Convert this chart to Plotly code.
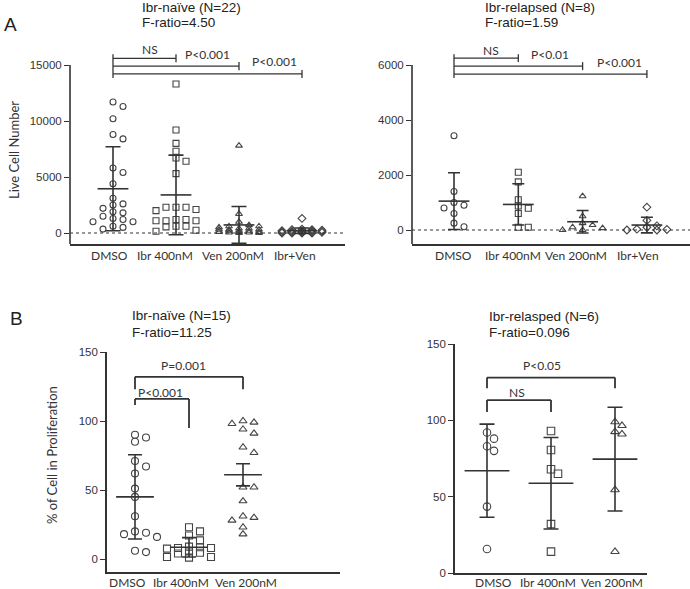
import plotly.graph_objects as go

W, H = 690, 589

# ---- data -------------------------------------------------------------
a_groups = ["DMSO", "Ibr 400nM", "Ven 200nM", "Ibr+Ven"]
b_groups = ["DMSO", "Ibr 400nM", "Ven 200nM"]

# A, Ibr-naive (N=22): live cell number
naive_dmso = [11700, 11300, 10200, 8800, 8400, 5800, 5400, 4400, 3100, 2600, 2500,
              2200, 1900, 1800, 1500, 1300, 1200, 1000, 1000, 600, 500, 350]
naive_ibr = [13300, 9200, 8000, 7300, 6700, 6400, 5300, 2300, 2300, 2300, 2100,
             2000, 1200, 1200, 1100, 1100, 1100, 600, 600, 550, 250, 150]
naive_ven = [7800, 1700, 1000, 700, 600, 600, 500, 400, 400, 300, 300, 300,
             200, 200, 200, 100, 100, 100, 50, 50, 0, 0]
naive_combo = [1300, 350, 300, 300, 250, 200, 200, 200, 150, 150, 150, 100,
               100, 100, 100, 50, 50, 50, 0, 0, 0, 0]
naive_mean = [3950, 3400, 720, 200]
naive_sd = [3750, 3550, 1650, 250]

# A, Ibr-relapsed (N=8): live cell number
rel_dmso = [3430, 1400, 1000, 900, 800, 600, 250, 120]
rel_ibr = [2100, 1750, 1100, 870, 790, 600, 100, 100]
rel_ven = [1230, 500, 250, 180, 100, 70, 0, 0]
rel_combo = [830, 350, 150, 100, 30, 20, 0, 0]
rel_mean = [1050, 930, 300, 180]
rel_sd = [1030, 750, 410, 285]

# B, Ibr-naive (N=15): % of cells in proliferation
prol_naive_dmso = [90, 88, 85, 71, 67, 62, 51, 45, 31, 20, 19, 18, 16, 6, 5]
prol_naive_ibr = [23, 20, 17, 13.5, 9, 8.5, 8, 8, 7.5, 5.5, 4.5, 4, 1.5, 1.5, 1]
prol_naive_ven = [100, 99, 98, 94, 91, 81, 77, 52, 52, 42, 31, 30, 28, 23, 18]
prol_naive_mean = [45, 8.5, 61]
prol_naive_err = [30.5, 7, 8]

# B, Ibr-relapsed (N=6)
prol_rel_dmso = [92, 88, 83, 80, 43.5, 15.7]
prol_rel_ibr = [93, 80.6, 68, 65, 32, 14]
prol_rel_ven = [99, 96.5, 92.5, 91, 54.5, 14]
prol_rel_mean = [67, 58.8, 74.6]
prol_rel_sd = [30.5, 30, 34]

# ---- styles -----------------------------------------------------------
INK = "#333333"
PT = "#444444"
SANS = "Liberation Sans, Arial, sans-serif"
HUM = "Lato, Open Sans, sans-serif"
SYMS = ["circle-open", "square-open", "triangle-up-open", "diamond-open"]


def xgeom(c0, dx, xl, xr):
    return [(xl - c0) / dx, (xr - c0) / dx], [xl / W, xr / W]


def ygeom(v0, p0, v1, p1, pbot, ptop):
    s = (p0 - p1) / (v1 - v0)
    return [v0 - (pbot - p0) / s, v1 + (p1 - ptop) / s], [(H - pbot) / H, (H - ptop) / H], s


def swarm(vals, ypx, step, dist, maxk=2):
    # grid swarm like GraphPad: columns `step` px apart, at most +-maxk columns
    cands = [0]
    for k in range(1, maxk + 1):
        cands += [k, -k]
    placed, offs = [], []
    for v in vals:
        y = v * ypx
        best, best_d = 0, -1
        for c in cands:
            x = c * step
            d = min([((x - px) ** 2 + (y - py) ** 2) ** 0.5 for px, py in placed] or [1e9])
            if d >= dist:
                best = x
                break
            if d > best_d:
                best, best_d = x, d
        placed.append((best, y))
        offs.append(best)
    return offs


panels = [
    dict(groups=a_groups, series=[naive_dmso, naive_ibr, naive_ven, naive_combo],
         mean=naive_mean, err=naive_sd,
         x=xgeom(113, 63, 70, 345), y=ygeom(0, 233, 15000, 65, 244, 44),
         dx=63, tickvals=[0, 5000, 10000, 15000], msize=6, step=10, dist=6, cap=7.5,
         mean_w=22, axis_top=15000, zero_dash=True, own_yline=True,
         label_px=[109, 165, 233, 295], label_py=255),
    dict(groups=a_groups, series=[rel_dmso, rel_ibr, rel_ven, rel_combo],
         mean=rel_mean, err=rel_sd,
         x=xgeom(454, 64.3, 412, 690), y=ygeom(0, 230, 6000, 65, 244, 44),
         dx=64.3, tickvals=[0, 2000, 4000, 6000], msize=6, step=10, dist=6, cap=6,
         mean_w=22, axis_top=6000, zero_dash=True, own_yline=True,
         label_px=[453, 513, 576, 638], label_py=255),
    dict(groups=b_groups, series=[prol_naive_dmso, prol_naive_ibr, prol_naive_ven],
         mean=prol_naive_mean, err=prol_naive_err,
         x=xgeom(135, 54, 107, 340), y=ygeom(0, 559, 150, 352, 572, 352),
         dx=54, tickvals=[0, 50, 100, 150], msize=7, step=11, dist=6.5, cap=7,
         mean_w=27, axis_top=150, zero_dash=False, own_yline=False,
         label_px=[127, 181, 246], label_py=582),
    dict(groups=b_groups, series=[prol_rel_dmso, prol_rel_ibr, prol_rel_ven],
         mean=prol_rel_mean, err=prol_rel_sd,
         x=xgeom(487, 64, 455, 647), y=ygeom(0, 573, 150, 344, 573, 344),
         dx=64, tickvals=[0, 50, 100, 150], msize=7.5, step=7, dist=7, cap=7.5,
         mean_w=32, axis_top=150, zero_dash=False, own_yline=False,
         label_px=[493, 548, 612], label_py=582),
]

# brackets: (x0, x1, y_top, left_leg_to, right_leg_to / tick, label, label_x, label_y)
brackets = [
    [(0, 1, 15600, None, 360, "NS", 0.59, 16340),
     (0, 2, 14900, None, 360, "P<0.001", 1.5, 15980),
     (0, 3, 14200, None, 360, "P<0.001", 2.56, 15270)],
    [(0, 1, 6250, None, 145, "NS", 0.58, 6545),
     (0, 2, 5960, None, 145, "P<0.01", 1.5, 6400),
     (0, 3, 5670, None, 145, "P<0.001", 2.58, 6109)],
    [(0, 1, 116, 111.6, 95, "P<0.001", 0.48, 121),
     (0, 2, 132, 123, 123, "P=0.001", 0.89, 140)],
    [(0, 1, 113.3, 105.4, 105.4, "NS", 0.47, 118.5),
     (0, 2, 128, 121, 121, "P<0.05", 0.86, 135.6)],
]

fig = go.Figure()
shapes, annos = [], []

for i, p in enumerate(panels):
    n = "" if i == 0 else str(i + 1)
    xa, ya = "x" + n, "y" + n
    yrange, ydom, ypx = p["y"]
    xrange, xdom = p["x"]

    for g, vals in enumerate(p["series"]):
        offs = swarm(vals, ypx, p["step"], p["dist"])
        fig.add_trace(go.Scatter(
            x=[g + o / p["dx"] for o in offs], y=vals, mode="markers",
            xaxis=xa, yaxis=ya, cliponaxis=False,
            marker=dict(symbol=SYMS[g], size=p["msize"], color=PT,
                        line=dict(color=PT, width=1.1))))

    fig.add_trace(go.Scatter(
        x=list(range(len(p["groups"]))), y=p["mean"], mode="markers",
        xaxis=xa, yaxis=ya, cliponaxis=False,
        marker=dict(symbol="line-ew", size=p["mean_w"], color=INK,
                    line=dict(color=INK, width=1.6)),
        error_y=dict(type="data", array=p["err"], symmetric=True,
                     width=p["cap"], thickness=1.6, color=INK)))

    lay_x = dict(domain=xdom, range=xrange, anchor=ya, showgrid=False, zeroline=False,
                 showline=True, linecolor=INK, linewidth=1.6, ticks="",
                 showticklabels=False, automargin=False)
    lay_y = dict(domain=ydom, range=yrange, anchor=xa, showgrid=False, zeroline=False,
                 showline=not p["own_yline"], linecolor=INK, linewidth=1.6,
                 ticks="outside", ticklen=5, tickwidth=1.3, tickcolor=INK,
                 tickvals=p["tickvals"], tickformat="d", automargin=False,
                 tickfont=dict(family=SANS, size=11.5, color=INK))
    fig.update_layout(**{"xaxis" + n: lay_x, "yaxis" + n: lay_y})

    # category labels (GraphPad sets them slightly off the column centres)
    for name, lx in zip(p["groups"], p["label_px"]):
        annos.append(dict(xref="paper", yref="paper", x=lx / W, y=1 - p["label_py"] / H,
                          text=name, showarrow=False, xanchor="center", yanchor="middle",
                          font=dict(family=HUM, size=12, color=INK)))

    if p["own_yline"]:
        shapes.append(dict(type="line", xref=xa + " domain", yref=ya, x0=0, x1=0,
                           y0=yrange[0], y1=p["axis_top"],
                           line=dict(color=INK, width=1.6)))
    if p["zero_dash"]:
        shapes.append(dict(type="line", xref=xa + " domain", yref=ya, x0=0, x1=1,
                           y0=0, y1=0, line=dict(color=INK, width=1.1, dash="3px,3px")))

    for (x0, x1, yt, left_to, right_to, lab, lx, ly) in brackets[i]:
        lw = 1.3 if left_to is None else 1.8
        shapes.append(dict(type="line", xref=xa, yref=ya, x0=x0, x1=x1, y0=yt, y1=yt,
                           line=dict(color=INK, width=lw)))
        if left_to is None:
            # stacked brackets with end ticks
            shapes.append(dict(type="line", xref=xa, yref=ya, x0=x1, x1=x1,
                               y0=yt - right_to, y1=yt + right_to,
                               line=dict(color=INK, width=lw)))
        else:
            shapes.append(dict(type="line", xref=xa, yref=ya, x0=x0, x1=x0,
                               y0=left_to, y1=yt, line=dict(color=INK, width=lw)))
            shapes.append(dict(type="line", xref=xa, yref=ya, x0=x1, x1=x1,
                               y0=right_to, y1=yt, line=dict(color=INK, width=lw)))
        annos.append(dict(xref=xa, yref=ya, x=lx, y=ly, text=lab, showarrow=False,
                          font=dict(family=HUM, size=12, color=INK),
                          xanchor="center", yanchor="middle"))
    if i < 2:
        # common left leg of the stacked brackets
        top = brackets[i][0][2] + brackets[i][0][4]
        bot = brackets[i][-1][2] - brackets[i][-1][4]
        shapes.append(dict(type="line", xref=xa, yref=ya, x0=0, x1=0, y0=bot, y1=top,
                           line=dict(color=INK, width=1.3)))

# titles and labels (paper coordinates, pixels from top-left)
texts = [
    ("Ibr-naïve (N=22)", 140, 7, 13.5, SANS),
    ("F-ratio=4.50", 140, 22, 13.5, SANS),
    ("Ibr-relapsed (N=8)", 483, 7, 13.5, SANS),
    ("F-ratio=1.59", 483, 22, 13.5, SANS),
    ("Ibr-naïve (N=15)", 130, 315, 13.5, SANS),
    ("F-ratio=11.25", 130, 332, 13.5, SANS),
    ("Ibr-relasped (N=6)", 487, 316, 13.5, SANS),
    ("F-ratio=0.096", 487, 332, 13.5, SANS),
    ("A", 2, 24, 19, SANS),
    ("B", 8, 318, 19, SANS),
]
for t, px, py, size, fam in texts:
    annos.append(dict(xref="paper", yref="paper", x=px / W, y=1 - py / H, text=t,
                      showarrow=False, xanchor="left", yanchor="middle",
                      font=dict(family=fam, size=size, color="#222222")))

for t, px, py in [("Live Cell Number", 14, 150), ("% of Cell in Proliferation", 52, 455)]:
    annos.append(dict(xref="paper", yref="paper", x=px / W, y=1 - py / H, text=t,
                      showarrow=False, textangle=-90, xanchor="center", yanchor="middle",
                      font=dict(family=HUM, size=13, color=INK)))

fig.update_layout(width=W, height=H,
                  margin=dict(l=0, r=0, t=0, b=0, pad=0, autoexpand=False),
                  paper_bgcolor="white", plot_bgcolor="white", showlegend=False,
                  shapes=shapes, annotations=annos)

# the page's default body margin would shift the whole figure by 8px
fig.write_html("out.html", config={"displayModeBar": False},
               post_script="document.body.style.margin='0px';")
